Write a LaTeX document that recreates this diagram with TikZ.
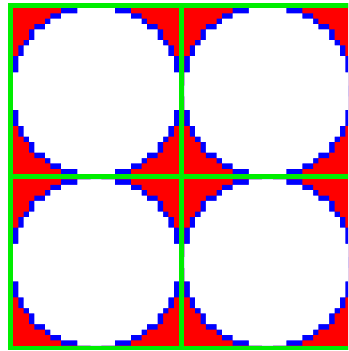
\documentclass[tikz,border=0pt]{standalone}
\usepackage{tikz}
\definecolor{cornerred}{RGB}{255,0,0}
\definecolor{rimblue}{RGB}{0,0,255}
\definecolor{linegreen}{RGB}{0,238,0}

\begin{document}
\begin{tikzpicture}[
  x=5.36pt, y=-5.36pt,
  corner/.style={fill=cornerred},
  rim/.style={fill=rimblue},
  inside/.style={fill=white},
  gridline/.style={fill=linegreen}
]
  \useasboundingbox (-1.418,-0.485) rectangle (63.51,65.0);
  \clip (-1.418,-0.485) rectangle (63.51,65.0);
  \fill[white] (-1.418,-0.485) rectangle (63.51,65.0);
  % red everywhere outside the circles
  \fill[corner] (0,0) rectangle (64,64.8);
  % blue rim, one quadrant at a time (mirrored)
  \foreach \ox/\oy in {0/0,32/0,0/32,32/32}{
    \foreach \mx/\my in {1/1,-1/1,1/-1,-1/-1}{
      \begin{scope}[shift={(\ox+16.5-16.5*\mx,\oy+16.5-16.5*\my)}, xscale=\mx, yscale=\my]
        \path[rim] (17.5,1)
          \foreach \row/\rx in {1/10,2/8,3/7,4/5,5/4,6/4,7/3,8/2,9/2,10/1,11/1,12/1}{
            -- (\rx,\row) -- (\rx,\row+1) }
          -- (1,17.5) -- (17.5,17.5) -- cycle;
      \end{scope}
    }
  }
  % white inside of each circle
  \foreach \ox/\oy in {0/0,32/0,0/32,32/32}{
    \foreach \mx/\my in {1/1,-1/1,1/-1,-1/-1}{
      \begin{scope}[shift={(\ox+16.5-16.5*\mx,\oy+16.5-16.5*\my)}, xscale=\mx, yscale=\my]
        \path[inside] (17.5,1)
          \foreach \row/\wx in {1/13,2/10,3/8,4/7,5/5,6/5,7/4,8/3,9/3,10/2,11/2,12/2}{
            -- (\wx,\row) -- (\wx,\row+1) }
          -- (1,13) -- (1,17.5) -- (17.5,17.5) -- cycle;
      \end{scope}
    }
  }
  % green cell borders
  \foreach \c in {0,32}{
    \fill[gridline] (\c,0) rectangle (\c+1,64.8);
  }
  \foreach \r in {0,32}{
    \fill[gridline] (0,\r) rectangle (64,\r+1);
  }
  \fill[gridline] (0,64) rectangle (64,64.8);
\end{tikzpicture}
\end{document}
